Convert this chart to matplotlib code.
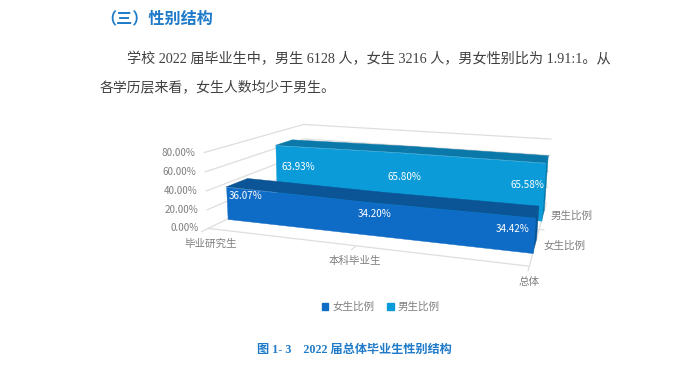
import numpy as np
import matplotlib
matplotlib.use('Agg')
import matplotlib.pyplot as plt
from matplotlib.patches import Patch
from mpl_toolkits.mplot3d import proj3d
from mpl_toolkits.mplot3d.art3d import Poly3DCollection

categories = ['毕业研究生', '本科毕业生', '总体']
female = [36.07, 34.20, 34.42]
male = [63.93, 65.80, 65.58]
z_ticks = [0, 20, 40, 60, 80]

CJK = ['Noto Sans CJK SC', 'DejaVu Sans']
SERIF = ['Liberation Serif', 'Noto Sans CJK SC']
W, H = 692, 376
SIZE = 550
GRID = '#dedede'
GRAY = '#7f7f7f'
BLUE = '#1f7bc9'
BODY = '#404040'
FEMALE_Y = (0.1587, 0.3516)
MALE_Y = (0.6493, 0.8505)

fig = plt.figure(figsize=(W / 100, H / 100), dpi=100, facecolor='white')
# view fitted against the corners of the reference
cx, cy = 385.11, 187.79
ax = fig.add_axes([(cx - SIZE / 2) / W, 1 - (cy + SIZE / 2) / H, SIZE / W, SIZE / H],
                  projection='3d', computed_zorder=False)
ax.set_proj_type('persp', focal_length=0.2072)
ax.view_init(elev=12.7771, azim=-72.9083, roll=-0.9052)
ax.set_box_aspect((1, 0.7090, 0.2442), zoom=0.6429)
ax.set_xlim(0, 2)
ax.set_ylim(0, 1)
ax.set_zlim(0, 80)
ax.set_axis_off()
ax.patch.set_alpha(0)
M = ax.get_proj()


def label(x, y, z, s, dx=0, dy=0, color=GRAY, ha='center', size=7.6, zorder=6):
    # 2D text pinned to a projected 3D point, offset in pixels
    px, py, _ = proj3d.proj_transform(x, y, z, M)
    ax.annotate(s, (px, py), xytext=(dx, dy), textcoords='offset pixels', color=color,
                fontsize=size, ha=ha, va='center', family=CJK, zorder=zorder, annotation_clip=False)


def draw_area(values, y0, y1, front, top, z):
    x = np.arange(len(values))
    faces = [list(zip(x, [y0] * 3, values)) + [(2, y0, 0), (0, y0, 0)]]
    tops = []
    for i in range(len(values) - 1):
        tops.append([(x[i], y0, values[i]), (x[i + 1], y0, values[i + 1]),
                     (x[i + 1], y1, values[i + 1]), (x[i], y1, values[i])])
    side = [(2, y0, values[-1]), (2, y1, values[-1]), (2, y1, 0), (2, y0, 0)]
    ax.add_collection3d(Poly3DCollection([side] + tops, facecolor=top, edgecolor=top,
                                         linewidth=0.3, zorder=z))
    ax.add_collection3d(Poly3DCollection(faces, facecolor=front, edgecolor=front,
                                         linewidth=0.3, zorder=z + 0.1))


# gridlines on the two walls and the floor
for t in z_ticks:
    ax.plot([0, 0, 2], [0, 1, 1], [t, t, t], color=GRID, lw=0.9, zorder=1)
    label(0, 0, t, '%.2f%%' % t, dx=-9, ha='right', size=7.1)
ax.plot([0, 2, 2], [0, 0, 1], [0, 0, 0], color=GRID, lw=0.9, zorder=1)
category_dx = [2, -1, 0]
for i in range(len(categories)):
    ax.plot([i, i], [0, -0.05], [0, 0], color=GRID, lw=0.9, zorder=1)
    label(i, 0, 0, categories[i], dx=category_dx[i], dy=-15.5)
ax.plot([2, 2.03], [0.5, 0.5], [0, 0], color=GRID, lw=0.9, zorder=1)

draw_area(male, MALE_Y[0], MALE_Y[1], '#0a9bd8', '#0a78a8', 2)
draw_area(female, FEMALE_Y[0], FEMALE_Y[1], '#0f6cc6', '#0b5596', 3)

female_off = [(19, -9), (6, -12), (-23, -11)]
male_off = [(23, -22), (3, -24), (-18, -22)]
for i in range(3):
    label(i, FEMALE_Y[0], female[i], '%.2f%%' % female[i], female_off[i][0], female_off[i][1],
          color='white', size=7.1, zorder=7)
    label(i, MALE_Y[0], male[i], '%.2f%%' % male[i], male_off[i][0], male_off[i][1],
          color='white', size=7.1, zorder=7)

label(2, MALE_Y[0], 0, '男生比例', dx=9, dy=5, ha='left')
label(2, FEMALE_Y[0], 0, '女生比例', dx=11, dy=7, ha='left')

fig.legend(handles=[Patch(color='#0f6cc6', label='女生比例'), Patch(color='#0a9bd8', label='男生比例')],
           loc='center', bbox_to_anchor=(381 / W, 1 - 307 / H), ncol=2, frameon=False,
           prop={'family': CJK, 'size': 7.6}, labelcolor=GRAY, handlelength=0.6, handleheight=0.6,
           handletextpad=0.4, columnspacing=1.2)

fig.text(100 / W, 1 - 18 / H, '（三）性别结构', color=BLUE, fontsize=11.6, fontweight='bold',
         family=CJK, va='center')
fig.text(127 / W, 1 - 59 / H, '学校 2022 届毕业生中，男生 6128 人，女生 3216 人，男女性别比为 1.91:1。从',
         color=BODY, fontsize=10.15, family=SERIF, va='center')
fig.text(100 / W, 1 - 87 / H, '各学历层来看，女生人数均少于男生。', color=BODY, fontsize=10,
         family=SERIF, va='center')
fig.text(257 / W, 1 - 350 / H, '图 1- 3    2022 届总体毕业生性别结构', color=BLUE, fontsize=8.75,
         fontweight='bold', family=SERIF, va='center')

fig.savefig('out.png', dpi=100)
